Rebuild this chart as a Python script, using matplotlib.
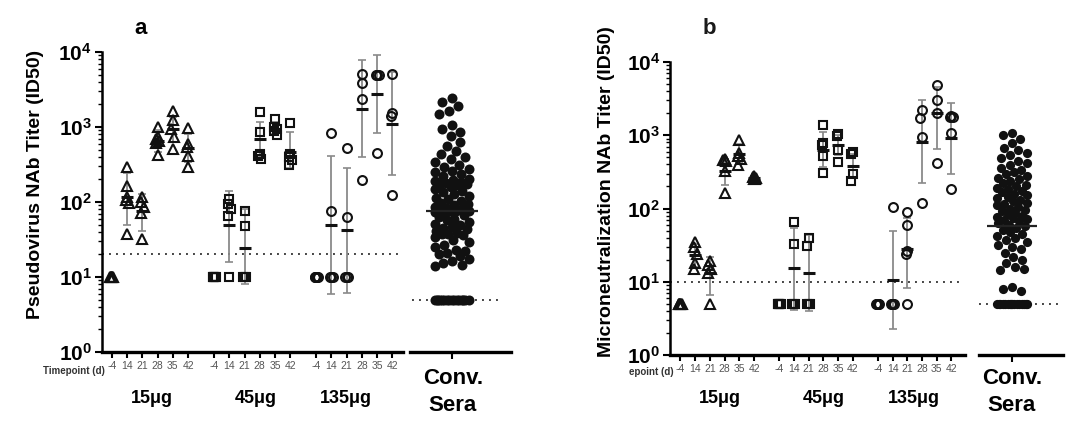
import numpy as np
import matplotlib
matplotlib.use('Agg')
import matplotlib.pyplot as plt
from matplotlib.ticker import FixedLocator, NullFormatter, LogLocator, FixedFormatter

plt.rcParams['font.family'] = ['Liberation Sans', 'DejaVu Sans']
plt.rcParams['mathtext.fontset'] = 'custom'
plt.rcParams['mathtext.rm'] = 'Liberation Sans'
plt.rcParams['mathtext.bf'] = 'Liberation Sans:bold'

# ---------------- data ----------------
timepoints = ['-4', '14', '21', '28', '35', '42']
doses = ['15μg', '45μg', '135μg']
dose_markers = ['^', 's', 'o']

# Panel a: pseudovirus NAb titers per dose, per timepoint
pa_15 = [[10, 10, 10, 10, 10, 10],
         [293, 163, 117, 105, 98, 37],
         [115, 100, 86, 72, 32],
         [1000, 740, 690, 660, 620, 420],
         [1630, 1230, 950, 740, 510],
         [980, 600, 540, 410, 290]]
pa_45 = [[10, 10, 10, 10, 10, 10],
         [110, 95, 80, 65, 10],
         [76, 48, 10, 10, 10],
         [1590, 860, 440, 410, 380],
         [1270, 1000, 950, 880, 780],
         [1140, 430, 400, 360, 310]]
pa_135 = [[10, 10, 10, 10, 10, 10],
          [830, 76, 10, 10, 10],
          [525, 63, 10, 10, 10],
          [5140, 3860, 2390, 199],
          [5000, 5000, 4900, 450],
          [5140, 1540, 1390, 123]]
# geometric mean, upper and lower error bar ends (nan = none)
pa_mean = [[np.nan, 116, 76, 650, 930, 520],
           [np.nan, 49, 24, 690, 950, 465],
           [np.nan, 50, 42, 1756, 2780, 1108]]
pa_hi = [[np.nan, 245, 129, 900, 1350, 800],
         [np.nan, 140, 80, 1150, 1150, 860],
         [np.nan, 410, 284, 7740, 9200, 5400]]
pa_lo = [[np.nan, 49, 41, 470, 640, 340],
         [np.nan, 16, 8, 400, 800, 280],
         [np.nan, 5.9, 6.2, 398, 834, 227]]
pa_lod = 20
pa_conv = [2400, 2150, 1900, 1650, 1500, 1050, 950, 870,
           750, 640, 560,
           480, 440, 400, 370, 340, 310, 290, 275, 260, 250,
           235, 220, 205, 195, 190, 185, 180, 176, 172, 170,
           160, 150, 142, 135, 128, 120, 114, 108, 102, 98, 94, 90, 87, 84, 81,
           79, 77, 76, 75, 74,
           71, 67, 63, 60, 57, 54, 51, 49, 47, 45, 43, 41, 39, 38, 37, 36,
           34, 31, 29, 27, 25, 23, 22, 21, 20, 19,
           17.5, 16.5, 15.5, 14.5, 14,
           5, 5, 5, 5, 5, 5, 5, 5, 5, 5, 5, 5, 5, 5, 5, 5]
pa_conv_mean = 75
pa_conv_lod = 5

# Panel b: microneutralization NAb titers
pb_15 = [[5, 5, 5, 5, 5, 5],
         [35, 30, 24, 18, 15],
         [19, 17, 15, 13, 5],
         [480, 460, 440, 330, 165],
         [860, 570, 520, 480, 390],
         [280, 270, 262, 255, 250]]
pb_45 = [[5, 5, 5, 5, 5, 5],
         [66, 33, 5, 5, 5],
         [39, 31, 5, 5, 5],
         [1380, 780, 740, 520, 310],
         [1050, 980, 630, 430],
         [600, 560, 300, 235]]
pb_135 = [[5, 5, 5, 5, 5, 5],
          [106, 5, 5, 5, 5],
          [90, 60, 26, 24, 5],
          [2210, 1740, 955, 120],
          [4850, 3030, 2000, 423],
          [1830, 1800, 1790, 1084, 183]]
pb_mean = [[np.nan, 23, 13, 330, 560, 262],
           [np.nan, 15.4, 13, 630, 740, 380],
           [np.nan, 10.6, 28, 817, 2000, 908]]
pb_hi = [[np.nan, 33, 22, 480, 750, 275],
         [np.nan, 54, 43, 1100, 1000, 560],
         [np.nan, 49, 74, 3000, 4600, 2730]]
pb_lo = [[np.nan, 16, 6.6, 210, 420, 250],
         [np.nan, 4.1, 4.0, 370, 540, 260],
         [np.nan, 2.3, 8.2, 220, 649, 296]]
pb_lod = 10
pb_conv = [1060, 1000, 900, 780, 680, 620, 580,
           530, 490, 450, 420, 390, 360, 340, 320, 300, 280, 265, 250, 235, 222,
           210, 200,
           192, 184, 176, 168, 160, 152, 145, 138, 132, 126, 120, 115, 110, 105,
           100, 96, 92, 88, 84, 80, 77, 74, 72, 70,
           67, 63, 60, 57, 54, 51, 48, 45, 42, 40, 37, 35, 32, 30,
           28, 25, 22, 20, 18, 16, 15, 14.5,
           8.5, 8, 7.5,
           5, 5, 5, 5, 5, 5, 5, 5, 5, 5, 5, 5, 5, 5, 5, 5]
pb_conv_mean = 57
pb_conv_lod = 5

group_offsets = [0, 6.7, 13.4]

# ---------------- helpers ----------------
def swarm(ypx, d, maxw):
    ypx = np.asarray(ypx, float)
    order = np.argsort(-ypx, kind='stable')
    cand = np.arange(-maxw, maxw + 0.001, 0.5)
    xs = np.zeros(len(ypx))
    px, py = [], []
    for i in order:
        y = ypx[i]
        if px:
            P = np.array(px); Q = np.array(py)
            dist = np.sqrt((cand[:, None] - P[None, :]) ** 2 + (y - Q[None, :]) ** 2).min(axis=1)
            ok = dist >= d
            if ok.any():
                c = cand[ok]
                x = c[np.argmin(np.abs(c))]
            else:
                x = cand[np.argmax(dist - 1e-3 * np.abs(cand))]
        else:
            x = 0.0
        xs[i] = x
        px.append(x); py.append(y)
    return xs


def style_yaxis(ax):
    ax.set_yscale('log')
    ax.set_ylim(1, 1e4)
    ax.yaxis.set_major_locator(FixedLocator([1, 10, 100, 1000, 10000]))
    ax.yaxis.set_major_formatter(FixedFormatter([r'$\mathbf{10^{%d}}$' % k for k in range(5)]))
    ax.yaxis.set_minor_locator(LogLocator(base=10, subs=np.arange(2, 10)))
    ax.yaxis.set_minor_formatter(NullFormatter())
    ax.tick_params(axis='y', which='major', length=5, width=1.5, labelsize=15, pad=2)
    ax.tick_params(axis='y', which='minor', length=3, width=1.0)


def draw_panel(fig, rect_main, rect_conv, xlim_main, xlim_conv, data, means, his, los,
               lod, conv, conv_mean, conv_lod, lod_span, conv_lod_span, dconv, wconv,
               meanw_conv):
    ax = fig.add_axes(rect_main)
    axc = fig.add_axes(rect_conv)
    for a in (ax, axc):
        a.set_facecolor('none')
        a.spines['top'].set_visible(False)
        a.spines['right'].set_visible(False)
        a.spines['bottom'].set_linewidth(2.4)
        style_yaxis(a)
    ax.spines['left'].set_linewidth(1.8)
    axc.spines['left'].set_visible(False)
    axc.tick_params(axis='y', which='both', left=False, labelleft=False)
    ax.set_xlim(*xlim_main)
    axc.set_xlim(*xlim_conv)

    w_px = rect_main[2] * fig.get_size_inches()[0] * fig.dpi
    ppu = w_px / (xlim_main[1] - xlim_main[0])

    xticks, xlabels = [], []
    for g, vals in enumerate(data):
        for t, col in enumerate(vals):
            x0 = group_offsets[g] + t
            xticks.append(x0); xlabels.append(timepoints[t])
            ypx = ax.transData.transform(np.column_stack([np.zeros(len(col)), col]))[:, 1]
            offs = swarm(ypx, 9.0, 1.5) / ppu
            m = means[g][t]
            if not np.isnan(m):
                ax.errorbar([x0], [m], yerr=[[m - los[g][t]], [his[g][t] - m]], fmt='none',
                            ecolor='#8a8a8a', elinewidth=1.3, capsize=2.8, capthick=1.2,
                            zorder=1)
                ax.plot([x0], [m], marker='_', ms=9, mew=2.2, color='#111111',
                        linestyle='none', zorder=4)
            ms = 7.2 if dose_markers[g] == '^' else 6.4
            ax.plot(x0 + offs, col, marker=dose_markers[g], ms=ms, mew=1.5,
                    mfc='none', mec='#111111', linestyle='none', zorder=3)
    ax.set_xticks(xticks)
    ax.set_xticklabels(xlabels)
    ax.tick_params(axis='x', length=4, width=1.5, labelsize=7.5, labelcolor='#555555', pad=2.5)
    ax.axhline(lod, xmin=lod_span[0], xmax=lod_span[1], color='#444444', lw=1.4,
               linestyle=(0, (1, 2.6)), zorder=0.5)

    # convalescent sera swarm (x units are pixels)
    ypx = axc.transData.transform(np.column_stack([np.zeros(len(conv)), conv]))[:, 1]
    offs = swarm(ypx, dconv, wconv)
    axc.axhline(conv_lod, xmin=conv_lod_span[0], xmax=conv_lod_span[1], color='#444444',
                lw=1.4, linestyle=(0, (1, 2.6)), zorder=0.5)
    axc.plot(offs, conv, marker='o', ms=dconv * 0.72, mew=0, mfc='#111111',
             linestyle='none', zorder=3)
    axc.plot([0], [conv_mean], marker='_', ms=meanw_conv, mew=1.6, color='#222222',
             linestyle='none', zorder=4)
    axc.set_xticks([0])
    axc.set_xticklabels([''])
    axc.tick_params(axis='x', length=5, width=1.5)
    return ax, axc


fig = plt.figure(figsize=(10.8, 4.37), dpi=100)

# Panel a
draw_panel(fig, [0.094, 0.1945, 0.279, 0.6865], [0.3796, 0.1945, 0.0935, 0.6865],
           (-0.68, 19.08), (-42, 59), [pa_15, pa_45, pa_135], pa_mean, pa_hi, pa_lo,
           pa_lod, pa_conv, pa_conv_mean, pa_conv_lod, (0.0, 0.99), (0.017, 0.89),
           10.0, 17.0, 38)
# Panel b
draw_panel(fig, [0.6204, 0.1876, 0.2731, 0.6705], [0.9065, 0.1876, 0.0778, 0.6705],
           (-0.71, 19.32), (-33, 51), [pb_15, pb_45, pb_135], pb_mean, pb_hi, pb_lo,
           pb_lod, pb_conv, pb_conv_mean, pb_conv_lod, (0.0, 0.99), (0.0, 0.96),
           9.2, 15.0, 36)

# Texts
fig.text(0.0333, 0.579, 'Pseudovirus NAb Titer (ID50)', rotation=90, ha='center',
         va='center', fontsize=14, fontweight='bold')
fig.text(0.562, 0.562, 'Microneutralization NAb Titer (ID50)', rotation=90, ha='center',
         va='center', fontsize=14, fontweight='bold')
fig.text(0.1306, 0.934, 'a', ha='center', va='center', fontsize=16, fontweight='bold')
fig.text(0.6565, 0.934, 'b', ha='center', va='center', fontsize=16, fontweight='bold',
         color='#1a1a1a')
fig.text(0.0975, 0.150, 'Timepoint (d)', ha='right', va='center', fontsize=7,
         fontweight='bold', color='#333333')
fig.text(0.6235, 0.148, 'epoint (d)', ha='right', va='center', fontsize=7,
         fontweight='bold', color='#333333')
for xf, lab in zip([0.1403, 0.2366, 0.3204], doses):
    fig.text(xf, 0.089, lab, ha='center', va='center', fontsize=13, fontweight='bold')
for xf, lab in zip([0.6667, 0.763, 0.8463], doses):
    fig.text(xf, 0.089, lab, ha='center', va='center', fontsize=13, fontweight='bold')
for xf in (0.4194, 0.937):
    fig.text(xf, 0.133, 'Conv.', ha='center', va='center', fontsize=16, fontweight='bold')
    fig.text(xf, 0.071, 'Sera', ha='center', va='center', fontsize=16, fontweight='bold')

fig.savefig('out.png', dpi=100, facecolor='white')
